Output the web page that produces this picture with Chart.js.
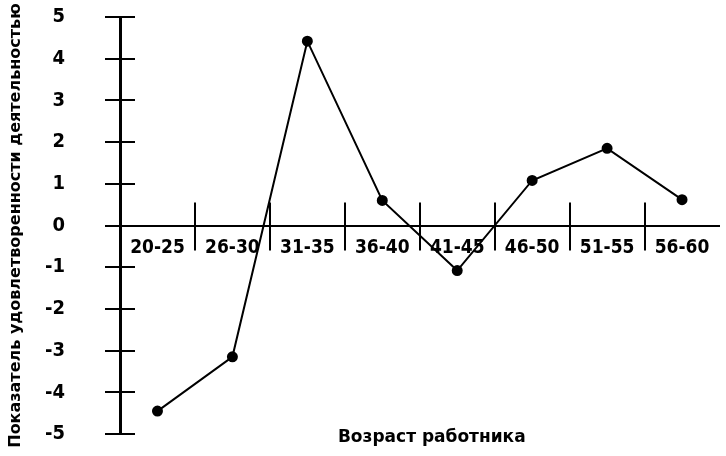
<!DOCTYPE html>
<html>
<head>
<meta charset="utf-8">
<script src="https://cdn.jsdelivr.net/npm/chart.js@4"></script>
<style>
  html, body { margin: 0; padding: 0; background: #fff; }
  #wrap { width: 726px; height: 456px; position: relative; }
</style>
</head>
<body>
<div id="wrap"><canvas id="chart"></canvas></div>
<script>
// Data
const ageGroups = ['20-25', '26-30', '31-35', '36-40', '41-45', '46-50', '51-55', '56-60'];
const satisfaction = [-4.45, -3.15, 4.42, 0.6, -1.08, 1.08, 1.85, 0.62];
const yTitle = 'Показатель удовлетворенности деятельностью';
const xTitle = 'Возраст работника';

const tickFont = "'Liberation Sans Narrow', 'DejaVu Sans Condensed', sans-serif";
const titleFont = "'DejaVu Sans', sans-serif";

// crossing ticks on the y axis, separators on the x axis, x title
const axisDecor = {
    id: 'axisDecor',
    afterDraw(chart) {
        const ctx = chart.ctx;
        const xs = chart.scales.x, ys = chart.scales.y;
        const area = chart.chartArea;
        ctx.save();
        ctx.strokeStyle = '#000';
        ctx.lineWidth = 2;
        // y ticks cross the axis line
        ys.ticks.forEach(t => {
            const y = Math.round(ys.getPixelForValue(t.value));
            ctx.beginPath();
            ctx.moveTo(area.left - 15, y);
            ctx.lineTo(area.left + 15, y);
            ctx.stroke();
        });
        // category separators crossing the zero line
        const y0 = ys.getPixelForValue(0);
        for (let i = 1; i < ageGroups.length; i++) {
            const x = Math.round((xs.getPixelForValue(i - 1) + xs.getPixelForValue(i)) / 2);
            ctx.beginPath();
            ctx.moveTo(x, y0 - 23);
            ctx.lineTo(x, y0 + 25);
            ctx.stroke();
        }
        // x axis title
        ctx.fillStyle = '#000';
        ctx.font = "bold 17px " + titleFont;
        ctx.textAlign = 'center';
        ctx.textBaseline = 'middle';
        ctx.fillText(xTitle, (area.left + area.right) / 2 + 12, area.bottom + 4);
        ctx.restore();
    }
};

new Chart(document.getElementById('chart'), {
    type: 'line',
    data: {
        labels: ageGroups,
        datasets: [{
            data: satisfaction,
            borderColor: '#000',
            backgroundColor: '#000',
            borderWidth: 2,
            pointRadius: 4.5,
            pointBackgroundColor: '#000',
            pointBorderColor: '#000',
            tension: 0
        }]
    },
    options: {
        responsive: true,
        maintainAspectRatio: false,
        animation: false,
        layout: { padding: { top: 17, bottom: 22, left: 0, right: 0 } },
        plugins: {
            legend: { display: false },
            tooltip: { enabled: false }
        },
        scales: {
            x: {
                position: { y: 0 },
                offset: true,
                afterFit: s => { s.height = 0; s.paddingLeft = 0; s.paddingRight = 0; },
                grid: { display: false, drawTicks: false },
                border: { display: true, color: '#000', width: 2 },
                ticks: {
                    color: '#000',
                    padding: 11,
                    maxRotation: 0,
                    font: { family: tickFont, size: 19, weight: 'bold' }
                }
            },
            y: {
                min: -5,
                max: 5,
                afterFit: s => { s.width = 120; s.paddingTop = 0; s.paddingBottom = 0; },
                grid: { display: false, drawTicks: false },
                border: { display: true, color: '#000', width: 3 },
                ticks: {
                    stepSize: 1,
                    color: '#000',
                    padding: 55,
                    font: { family: tickFont, size: 20, weight: 'bold' }
                },
                title: {
                    display: true,
                    text: yTitle,
                    color: '#000',
                    padding: { top: 6, bottom: 0 },
                    font: { family: titleFont, size: 16, weight: 'bold' }
                }
            }
        }
    },
    plugins: [axisDecor]
});
</script>
</body>
</html>
